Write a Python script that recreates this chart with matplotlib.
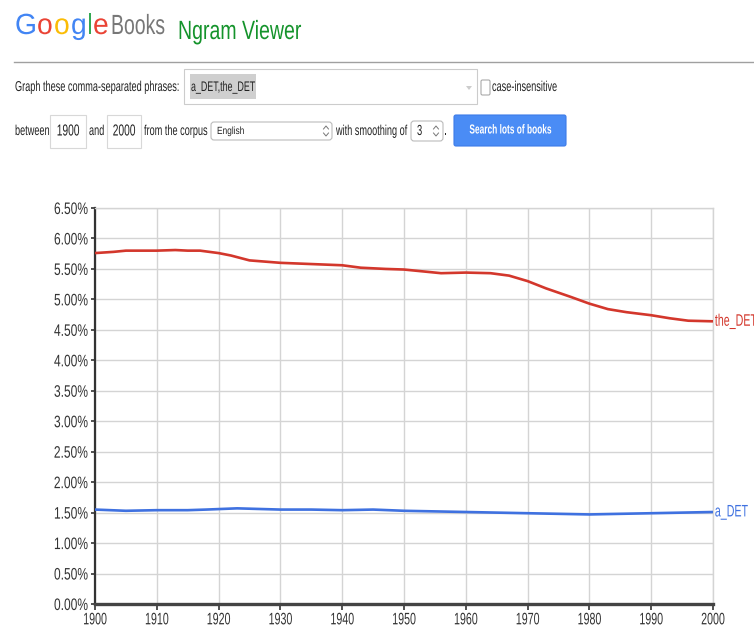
import matplotlib.pyplot as plt
from matplotlib import patheffects
from matplotlib.transforms import Affine2D
from matplotlib.patches import Rectangle, FancyBboxPatch, Polygon

# yearly share of each tagged word, in percent
years_the = [1900, 1903, 1905, 1910, 1913, 1915, 1917, 1920, 1922, 1925, 1930, 1935,
             1940, 1943, 1947, 1950, 1953, 1956, 1960, 1964, 1967, 1970, 1973, 1977,
             1980, 1983, 1986, 1990, 1993, 1996, 2000]
the_det = [5.76, 5.78, 5.80, 5.80, 5.81, 5.80, 5.80, 5.76, 5.72, 5.64, 5.60, 5.58,
           5.56, 5.52, 5.50, 5.49, 5.46, 5.43, 5.44, 5.43, 5.39, 5.30, 5.18, 5.04,
           4.93, 4.84, 4.79, 4.74, 4.69, 4.65, 4.64]

years_a = [1900, 1905, 1910, 1915, 1918, 1923, 1930, 1935, 1940, 1945, 1950, 1955,
           1960, 1965, 1970, 1975, 1980, 1985, 1990, 1995, 2000]
a_det = [1.55, 1.53, 1.54, 1.54, 1.55, 1.57, 1.55, 1.55, 1.54, 1.55, 1.53, 1.52,
         1.51, 1.50, 1.49, 1.48, 1.47, 1.48, 1.49, 1.50, 1.51]

x_ticks = list(range(1900, 2001, 10))
y_ticks = [i * 0.5 for i in range(14)]
y_labels = ['%.2f%%' % v for v in y_ticks]

RED = '#d3372c'
BLUE = '#3f71e0'
plt.rcParams['font.family'] = ['Liberation Sans', 'DejaVu Sans']


class Squeeze(patheffects.AbstractPathEffect):
    """Draw text glyphs condensed horizontally about an anchor."""

    def __init__(self, sx=0.64, anchor=None):
        super().__init__()
        self.sx = sx
        self.anchor = anchor

    def draw_path(self, renderer, gc, tpath, affine, rgbFace=None):
        if len(tpath.vertices) == 0:
            return
        if self.anchor is None:
            x0 = 0.0
        else:
            ext = tpath.get_extents()
            x0 = ext.x0 + self.anchor * (ext.x1 - ext.x0)
        sq = Affine2D().translate(-x0, 0).scale(self.sx, 1).translate(x0, 0)
        renderer.draw_path(gc, tpath, sq + affine, rgbFace)


W, H = 754, 629
fig = plt.figure(figsize=(W / 100, H / 100), dpi=100)

# page furniture drawn in pixel coordinates (origin top-left)
ui = fig.add_axes([0, 0, 1, 1])
ui.set_xlim(0, W)
ui.set_ylim(H, 0)
ui.axis('off')


def label(x, y, s, size=10.3, sx=0.64, ha='left', anchor=None, **kw):
    kw.setdefault('color', '#222222')
    kw.setdefault('va', 'center')
    t = ui.text(x, y, s, fontsize=size, ha=ha, **kw)
    t.set_path_effects([Squeeze(sx, anchor)])
    return t


logo = [('G', '#4285f4', 15), ('o', '#ea4335', 37), ('o', '#fbbc05', 54),
        ('g', '#4285f4', 71), ('l', '#34a853', 87), ('e', '#ea4335', 93)]
for ch, c, x in logo:
    label(x, 34, ch, size=21, sx=0.97, color=c, va='baseline')
label(111, 34, 'Books', size=20, sx=0.70, color='#777777', va='baseline')
label(178, 39, 'Ngram Viewer', size=19, sx=0.74, color='#14932b', va='baseline')

ui.plot([14, W], [62, 62], color='#a0a0a0', lw=1)


def box(x0, y0, x1, y1, ec='#d0d0d0', fc='white', r=0.0, lw=0.8):
    if r > 0:
        p = FancyBboxPatch((x0, y0), x1 - x0, y1 - y0,
                           boxstyle='round,pad=0,rounding_size=%g' % r,
                           ec=ec, fc=fc, lw=lw)
    else:
        p = Rectangle((x0, y0), x1 - x0, y1 - y0, ec=ec, fc=fc, lw=lw)
    ui.add_patch(p)


def spinner(x, y):
    ui.plot([x - 2.5, x, x + 2.5], [y - 2, y - 5, y - 2], color='#777', lw=0.7)
    ui.plot([x - 2.5, x, x + 2.5], [y + 2, y + 5, y + 2], color='#777', lw=0.7)


# first row: phrase input
label(15, 87, 'Graph these comma-separated phrases:')
box(184, 69, 477, 104, ec='#cccccc')
box(190, 74, 256, 99, ec='none', fc='#cfcfcf')
label(191, 87, 'a_DET,the_DET', size=10)
ui.add_patch(Polygon([[466, 86], [472, 86], [469, 90]], closed=True, fc='#cccccc', ec='none'))
box(481, 80, 490, 95, ec='#aaaaaa', r=1.5)
label(492, 87, 'case-insensitive')

# second row: range, corpus, smoothing, button
label(15, 131, 'between')
box(50, 115, 86, 148, ec='#d8d8d8')
label(68, 131, '1900', size=11.5, ha='center', anchor=0.5)
label(89, 131, 'and')
box(107, 115, 141, 148, ec='#d8d8d8')
label(124, 131, '2000', size=11.5, ha='center', anchor=0.5)
label(144, 131, 'from the corpus')
box(211, 122, 332, 140, ec='#bbbbbb', r=3)
label(217, 131, 'English', size=7.5, sx=0.8)
spinner(326, 131)
label(336, 131, 'with smoothing of')
box(411, 121, 443, 141, ec='#bbbbbb', r=3)
label(417, 131, '3', size=10.5)
spinner(436, 131)
label(444, 131, '.')
box(454, 115, 566, 146, ec='#3c7be8', fc='#4a8cf5', r=2)
label(510, 130.5, 'Search lots of books', size=9.4, ha='center', anchor=0.5,
      fontweight='bold', color='white')

# chart
ax = fig.add_axes([95 / W, 1 - 604 / H, 618 / W, 396 / H])
ax.plot(years_the, the_det, color=RED, lw=1.9, solid_capstyle='butt', zorder=3)
ax.plot(years_a, a_det, color=BLUE, lw=1.9, solid_capstyle='butt', zorder=3)
ax.set_xlim(1900, 2000)
ax.set_ylim(0, 6.5)
ax.set_xticks(x_ticks)
ax.set_yticks(y_ticks)
ax.set_yticklabels(y_labels)
ax.grid(True, color='#d4d4d4', lw=1)
ax.set_axisbelow(True)
for s in ('top', 'right'):
    ax.spines[s].set_color('#d4d4d4')
    ax.spines[s].set_linewidth(1)
ax.spines['left'].set_color('#333333')
ax.spines['left'].set_linewidth(1.6)
ax.spines['bottom'].set_color('#444444')
ax.spines['bottom'].set_linewidth(2.4)
ax.tick_params(axis='y', length=3, width=1.2, color='#333333', labelsize=12,
               labelcolor='#333333', pad=2)
ax.tick_params(axis='x', length=4, width=1.2, color='#333333', labelsize=12,
               labelcolor='#333333', pad=2)
for t in ax.get_yticklabels():
    t.set_path_effects([Squeeze(0.72, 1.0)])
for t in ax.get_xticklabels():
    t.set_path_effects([Squeeze(0.64, 0.5)])

for yv, name, c in ((the_det[-1], 'the_DET', RED), (a_det[-1], 'a_DET', BLUE)):
    t = ax.text(2000.3, yv, name, color=c, fontsize=12, va='center', ha='left',
                clip_on=False)
    t.set_path_effects([Squeeze(0.64)])

fig.savefig('out.png', dpi=100)
